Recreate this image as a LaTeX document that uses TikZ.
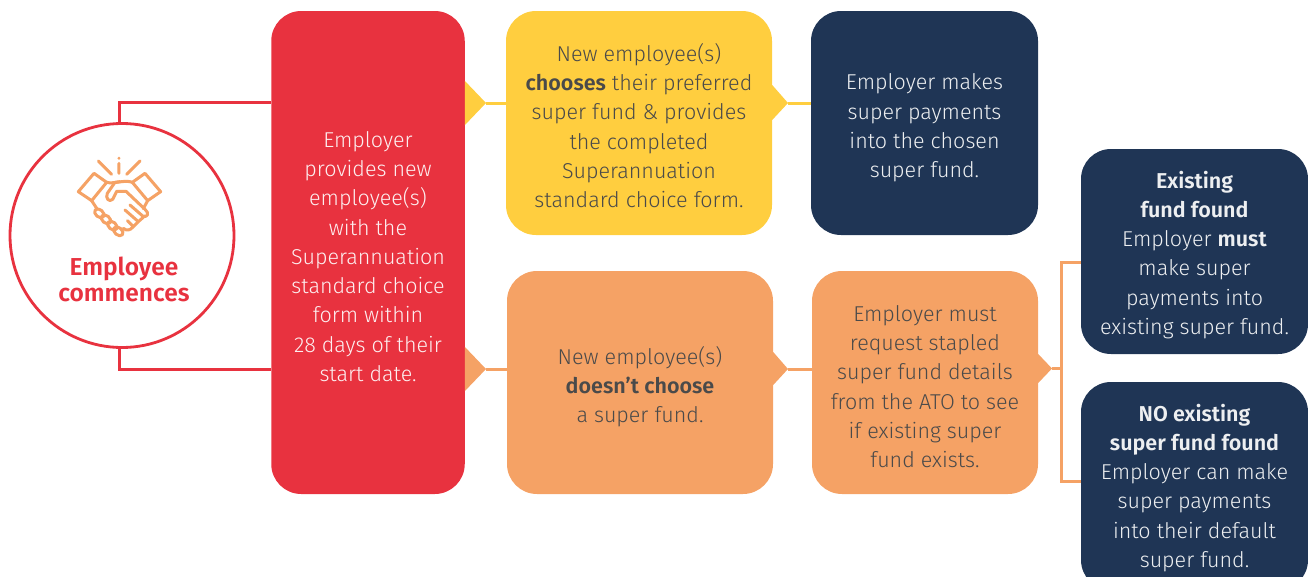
\documentclass[tikz,border=0pt]{standalone}
\usepackage{fontspec}
\setmainfont{Fira Sans Light}[BoldFont={Fira Sans SemiBold}]
\definecolor{cred}{HTML}{E8323F}
\definecolor{cyellow}{HTML}{FFCE3F}
\definecolor{corange}{HTML}{F5A265}
\definecolor{cnavy}{HTML}{1F3555}
\definecolor{cink}{HTML}{4A4A4A}
\newcommand{\dropby}[1]{\rule{0pt}{#1}}
\tikzset{
  flowbox/.style={rounded corners=30pt,inner sep=0pt,align=center,font=\fontsize{21.5}{29.25}\selectfont,anchor=center},
  redbox/.style={flowbox,fill=cred,text=white!92!cred},
  yellowbox/.style={flowbox,fill=cyellow,text=cink},
  orangebox/.style={flowbox,fill=corange,text=cink},
  navybox/.style={flowbox,fill=cnavy,text=white!92!cnavy},
  redline/.style={draw=cred,line width=3pt},
  yelline/.style={draw=cyellow,line width=3pt},
  orgline/.style={draw=corange,line width=3pt},
  iconline/.style={draw=corange,line width=3pt,line join=round,line cap=round},
}
\begin{document}
\begin{tikzpicture}[x=1pt,y=-1pt]
\useasboundingbox (0,0) rectangle (1308,576);
\clip (0,0) rectangle (1308,576);
\node[circle,draw=cred,line width=2.8pt,minimum size=224pt,inner sep=0pt,fill=white] (circ) at (122,235.5) {};
\node[redbox,minimum width=193.5pt,minimum height=483pt] (red) at (368,252.5) {\dropby{24pt}Employer\\provides new\\employee(s)\\with the\\Superannuation\\standard choice\\form within\\28 days of their\\start date.};
\node[yellowbox,minimum width=266pt,minimum height=224pt] (yel) at (639,123) {\dropby{23pt}New employee(s)\\\textbf{chooses} their preferred\\super fund \& provides\\the completed\\Superannuation\\standard choice form.};
\node[navybox,minimum width=227pt,minimum height=224pt] (nav1) at (924.5,123) {\dropby{26pt}Employer makes\\super payments\\into the chosen\\super fund.};
\node[orangebox,minimum width=266pt,minimum height=223pt] (org1) at (640,382.5) {\dropby{26pt}New employee(s)\\\textbf{doesn’t choose}\\a super fund.};
\node[orangebox,minimum width=226pt,minimum height=223pt] (org2) at (925,382.5) {\dropby{24pt}Employer must\\request stapled\\super fund details\\from the ATO to see\\if existing super\\fund exists.};
\node[navybox,minimum width=227pt,minimum height=205pt] (nav2) at (1194.5,251.5) {\dropby{24pt}\textbf{Existing}\\\textbf{fund found}\\Employer \textbf{must}\\make super\\payments into\\existing super fund.};
\node[navybox,minimum width=227pt,minimum height=208pt] (nav3) at (1194.5,486) {\dropby{21pt}\textbf{NO existing}\\\textbf{super fund found}\\Employer can make\\super payments\\into their default\\super fund.};
\node[text=cred,font=\fontsize{24.5}{26}\selectfont\bfseries,align=center,inner sep=0pt] (lab) at (124,279) {Employee\\commences};
\draw[redline] ([xshift=-3pt]circ.north) |- (red.west |- 0,102.5);
\draw[redline] ([xshift=-3pt]circ.south) |- (red.west |- 0,369);
\coordinate (t1) at (486,103);
\fill[cyellow] (red.east |- 0,81) -- (t1) -- (red.east |- 0,125) -- cycle;
\draw[yelline] (t1) -- (yel.west |- t1);
\coordinate (t2) at (788,103);
\fill[cyellow] (yel.east |- 0,85) -- (t2) -- (yel.east |- 0,120) -- cycle;
\draw[yelline] (t2) -- (nav1.west |- t2);
\coordinate (t3) at (486,369);
\fill[corange] (red.east |- 0,347) -- (t3) -- (red.east |- 0,391) -- cycle;
\draw[orgline] (t3) -- (org1.west |- t3);
\coordinate (t4) at (788,369);
\fill[corange] (org1.east |- 0,352) -- (t4) -- (org1.east |- 0,385) -- cycle;
\draw[orgline] (t4) -- (org2.west |- t4);
\coordinate (t5) at (1052,368.5);
\fill[corange] (org2.east |- 0,354) -- (t5) -- (org2.east |- 0,383) -- cycle;
\draw[orgline] (t5) -- (1061.5,368.5);
\draw[orgline] (nav2.west |- 0,262) -| (1061.5,481.5) -- (nav3.west |- 0,481.5);
\begin{scope}[shift={(70,150)},x=0.3333pt,y=-0.3333pt]
\draw[iconline] (85,33)--(125,73) (210,33)--(170,73) (147,40)--(147,70) (147,24)--(147,25);
\draw[iconline] (25,125)--(72,70)--(110,97)--(65,152)--cycle;
\draw[iconline] (272,125)--(225,70)--(187,97)--(233,152)--cycle;
\draw[iconline] (110,97) .. controls (130,103) and (165,88) .. (187,97);
\draw[iconline] (150,95) -- (135,97) -- (112,130) .. controls (105,145) and (118,158) .. (128,148) -- (140,124) -- (168,124) -- (225,178) .. controls (240,190) and (232,204) .. (218,198) -- (180,165);
\draw[iconline] (233,152) -- (220,176);
\draw[iconline] (65,152) -- (80,175);
\draw[iconline] (222,200) -- (205,215) -- (165,180) (205,215) -- (190,230) -- (172,212) (190,230) .. controls (180,242) and (170,243) .. (160,235);
\foreach \c in {(88,190),(108,208),(127,227),(145,244)} \draw[iconline,rotate around={-40:\c}] \c ellipse[x radius=16,y radius=11];
\end{scope}
\end{tikzpicture}
\end{document}
